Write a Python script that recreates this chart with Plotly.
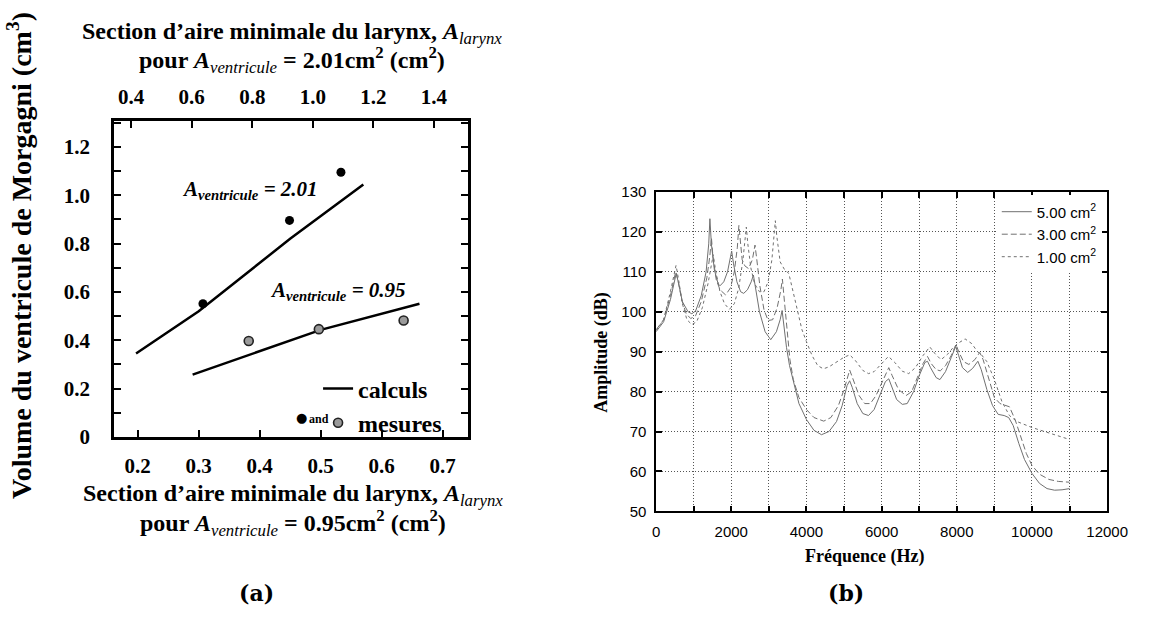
import plotly.graph_objects as go

# ---------------- Panel (a) data ----------------
# series A_ventricule = 2.01 (read against the top axis)
calc201_x = [0.416, 0.623, 0.925, 1.167]
calc201_y = [0.345, 0.52, 0.82, 1.045]
meas201_x = [0.637, 0.923, 1.093]
meas201_y = [0.551, 0.896, 1.095]
# series A_ventricule = 0.95 (read against the bottom axis)
calc095_x = [0.29, 0.40, 0.50, 0.662]
calc095_y = [0.258, 0.355, 0.443, 0.551]
meas095_x = [0.382, 0.497, 0.636]
meas095_y = [0.397, 0.446, 0.482]

a_bottom_ticks = [0.2, 0.3, 0.4, 0.5, 0.6, 0.7]
a_bottom_labels = ["0.2", "0.3", "0.4", "0.5", "0.6", "0.7"]
a_top_ticks = [0.4, 0.6, 0.8, 1.0, 1.2, 1.4]
a_top_labels = ["0.4", "0.6", "0.8", "1.0", "1.2", "1.4"]
a_y_ticks = [0, 0.2, 0.4, 0.6, 0.8, 1.0, 1.2]
a_y_labels = ["0", "0.2", "0.4", "0.6", "0.8", "1.0", "1.2"]

# ---------------- Panel (b) data ----------------
curve_500 = [(0,95.0),(200,97.5),(380,103),(480,107.5),(535,109.6),(600,107),(700,102.5),(850,100),
             (950,99.5),(1050,100.2),(1200,104),(1330,110),(1400,117),(1431,123.3),(1470,117),(1550,110.5),
             (1650,107),(1700,106.5),(1800,107.5),(1900,110),(1970,113.5),(2010,115.2),(2060,112),(2150,107.5),
             (2250,105),(2330,104.6),(2430,105.5),(2530,107.5),(2588,109.2),(2650,106),(2750,100),(2900,95),
             (3050,93),(3200,95),(3300,98),(3352,100.3),(3400,96),(3470,91),(3550,86.5),(3650,82.5),(3800,77),
             (4000,73),(4200,70.3),(4400,69.2),(4600,70),(4800,72.5),(4950,76.5),(5080,81.5),(5150,82.7),
             (5220,81),(5350,77),(5500,74.5),(5650,74),(5800,75.5),(5950,79),(6100,82.5),(6190,83.2),(6280,81),
             (6400,78),(6550,76.8),(6680,77),(6850,80),(7000,84),(7150,87.3),(7220,87.6),(7300,86),(7450,83.5),
             (7550,83),(7700,85),(7850,88.5),(7970,91.3),(8050,89),(8150,86),(8290,84.8),(8420,85.8),(8560,87.6),
             (8650,85.5),(8800,80.5),(8950,76.5),(9100,74.3),(9260,74),(9380,73.5),(9500,71.5),(9650,67),
             (9800,63),(10000,59.5),(10200,57),(10400,55.7),(10600,55.3),(10800,55.4),(11000,55.7)]
curve_300 = [(0,95.5),(200,98),(380,104),(470,108.5),(520,110),(580,108),(680,103),(800,99.5),(920,98.3),
             (1050,99),(1200,102.5),(1350,108.5),(1430,114),(1472,118.5),(1510,114),(1600,108),(1700,105.5),
             (1850,104.2),(1980,106),(2080,110),(2160,116),(2202,121.6),(2240,117),(2290,113),(2360,111.5),
             (2460,110.8),(2560,113),(2631,116.7),(2680,113),(2760,106.5),(2870,100.5),(2980,97.8),(3100,98),
             (3220,101),(3320,105.5),(3360,108.2),(3400,104),(3470,96),(3560,88),(3650,83),(3800,78.5),
             (4000,75.5),(4200,73.5),(4460,72.6),(4650,73.5),(4850,76.5),(5000,80.5),(5150,85.4),(5250,83),
             (5400,79),(5550,77),(5700,77),(5850,79),(6050,83),(6190,86),(6280,84),(6450,80.5),(6650,79),
             (6800,80),(6950,83.5),(7100,87),(7220,88.8),(7320,87),(7450,85.5),(7560,85.2),(7700,86.5),
             (7850,89),(7980,91.8),(8050,90),(8180,87.5),(8320,86.8),(8480,88),(8610,89.8),(8700,88),
             (8850,83),(9000,78.5),(9150,77),(9300,76.5),(9400,76.2),(9550,73),(9700,68.5),(9850,64.5),
             (10000,61.5),(10200,59.3),(10450,58),(10700,57.5),(11000,57.3)]
curve_100 = [(0,95.3),(200,98),(380,105),(480,110),(530,111.6),(590,108.5),(700,102),(820,98),(950,96.8),
             (1080,97.5),(1230,101),(1380,107),(1480,112),(1520,114.3),(1580,110.5),(1700,105),(1820,102),
             (1950,100.6),(2080,102),(2200,106),(2310,113),(2370,118),(2400,121.2),(2440,117),(2520,111),
             (2620,107),(2750,105),(2870,105),(2980,107.5),(3080,113),(3140,119),(3172,122.8),(3210,119),
             (3300,112.5),(3420,110.5),(3530,109.6),(3620,106),(3750,100.5),(3880,95.5),(4000,92.5),
             (4150,89),(4300,86.5),(4450,85.7),(4600,86.2),(4800,87.5),(5000,88.6),(5150,89.2),(5300,87.8),
             (5500,85.3),(5650,84.5),(5800,85),(6000,87),(6180,88.8),(6350,87.3),(6550,85.1),(6720,84.5),
             (6900,86),(7100,89),(7280,91.2),(7420,89.5),(7580,88),(7750,89.3),(7900,91),(8050,92.2),
             (8220,93.2),(8400,92),(8550,90),(8650,89.3),(8800,87.5),(9000,83),(9200,77.5),(9400,74),
             (9600,72.5),(10000,71),(10500,69.5),(11000,68)]
series_names = ["5.00 cm<sup>2</sup>", "3.00 cm<sup>2</sup>", "1.00 cm<sup>2</sup>"]
b_y_ticks = list(range(50, 131, 10))

# ---------------- figure ----------------
W, H = 1158, 619
SERIF = "Liberation Serif"
SANS = "Liberation Sans"


def px(x):
    return x / W


def py(y):
    return 1 - y / H


fig = go.Figure()

fig.add_trace(go.Scatter(x=calc201_x, y=calc201_y, xaxis="x2", yaxis="y", mode="lines",
                         line=dict(color="black", width=2.5), name="calculs", legend="legend"))
fig.add_trace(go.Scatter(x=calc095_x, y=calc095_y, xaxis="x", yaxis="y", mode="lines",
                         line=dict(color="black", width=2.5), showlegend=False))
fig.add_trace(go.Scatter(x=meas201_x, y=meas201_y, xaxis="x2", yaxis="y", mode="markers",
                         marker=dict(color="black", size=9), showlegend=False))
fig.add_trace(go.Scatter(x=meas095_x, y=meas095_y, xaxis="x", yaxis="y", mode="markers",
                         marker=dict(color="#9a9a9a", size=9, line=dict(color="#222", width=1.6)),
                         name="mesures", legend="legend"))

dashes = ["solid", "6px,3px", "3px,3px"]
for curve, nm, d in zip([curve_500, curve_300, curve_100], series_names, dashes):
    fx = [p[0] for p in curve]
    fy = [p[1] for p in curve]
    fig.add_trace(go.Scatter(x=fx, y=fy, xaxis="x3", yaxis="y3", mode="lines",
                             line=dict(color="#707070", width=1, dash=d), name=nm, legend="legend2"))

tick_a = dict(family=SERIF, size=21, color="black", weight="bold")
tick_b = dict(family=SANS, size=15, color="black")

fig.update_layout(
    width=W, height=H, autosize=False,
    margin=dict(l=0, r=0, t=0, b=0),
    paper_bgcolor="white", plot_bgcolor="rgba(0,0,0,0)",
    xaxis=dict(domain=[px(112.7), px(474)], anchor="y", range=[0.1615, 0.7412],
               tickvals=a_bottom_ticks, ticktext=a_bottom_labels, ticks="inside", ticklen=7, tickwidth=2,
               tickcolor="black", showline=True, linewidth=3, linecolor="black", mirror=True,
               showgrid=False, zeroline=False, tickfont=tick_a, ticklabelstandoff=8),
    xaxis2=dict(overlaying="x", side="top", anchor="y", range=[0.344, 1.512],
                tickvals=a_top_ticks, ticktext=a_top_labels, ticks="inside", ticklen=7, tickwidth=2,
                tickcolor="black", showline=True, linewidth=3, linecolor="black",
                showgrid=False, zeroline=False, tickfont=tick_a, ticklabelstandoff=6),
    yaxis=dict(domain=[py(443), py(116)], anchor="x", range=[0, 1.307],
               tickvals=a_y_ticks, ticktext=a_y_labels, ticks="inside", ticklen=7, tickwidth=2,
               tickcolor="black", showline=True, linewidth=3, linecolor="black", mirror="allticks",
               showgrid=False, zeroline=False, tickfont=tick_a, ticklabelstandoff=17,
               minor=dict(dtick=0.1, ticks="inside", ticklen=4, tickwidth=2, tickcolor="black")),
    xaxis3=dict(domain=[px(666.5), px(1127.5)], anchor="y3", range=[0, 12000],
                tick0=0, dtick=2000, tickformat="d", ticks="inside", ticklen=6, tickwidth=1.5,
                tickcolor="black", showline=True, linewidth=1.5, linecolor="black", mirror="allticks",
                showgrid=True, gridcolor="#555", griddash="1px,2px", gridwidth=1, zeroline=False,
                tickfont=tick_b, ticklabelstandoff=6,
                minor=dict(dtick=1000, ticks="inside", ticklen=6, tickwidth=1.5, tickcolor="black",
                           showgrid=True, gridcolor="#555", griddash="1px,2px", gridwidth=1)),
    yaxis3=dict(domain=[py(520), py(189.4)], anchor="x3", range=[50, 130],
                tickvals=b_y_ticks, ticks="inside", ticklen=6, tickwidth=1.5,
                tickcolor="black", showline=True, linewidth=1.5, linecolor="black", mirror="allticks",
                showgrid=True, gridcolor="#555", griddash="1px,2px", gridwidth=1, zeroline=False,
                tickfont=tick_b, ticklabelstandoff=5),
    legend=dict(x=px(321), y=py(370), xanchor="left", yanchor="top", bgcolor="rgba(0,0,0,0)",
                font=dict(family=SERIF, size=24, color="black", weight="bold"), tracegroupgap=0),
    legend2=dict(x=px(1122), y=py(193), xanchor="right", yanchor="top", bgcolor="white",
                 font=dict(family=SANS, size=15, color="black"), tracegroupgap=0),
)

ttl = dict(family=SERIF, size=24, color="black", weight="bold")
sub_a = "<sub><span style='font-weight:normal'><i>larynx</i></span></sub>"
sub_v = "<sub><span style='font-weight:normal'><i>ventricule</i></span></sub>"
texts = [
    ("Section d’aire minimale du larynx, <i>A</i>" + sub_a, 294, 25, 0, ttl, "center"),
    ("pour <i>A</i>" + sub_v + " = 2.01cm<sup>2</sup> (cm<sup>2</sup>)", 294, 53, 0, ttl, "center"),
    ("Section d’aire minimale du larynx, <i>A</i>" + sub_a, 295, 503, 0, ttl, "center"),
    ("pour <i>A</i>" + sub_v + " = 0.95cm<sup>2</sup> (cm<sup>2</sup>)", 295, 532, 0, ttl, "center"),
    ("Volume du ventricule de Morgagni (cm<sup>3</sup>)", 16, 255, -90,
     dict(family=SERIF, size=28, color="black", weight="bold"), "center"),
    ("<i>A</i><sub><i>ventricule</i></sub><i> = 2.01</i>", 251, 187, 0,
     dict(family=SERIF, size=21, color="black", weight="bold"), "center"),
    ("<i>A</i><sub><i>ventricule</i></sub><i> = 0.95</i>", 341, 292, 0,
     dict(family=SERIF, size=21, color="black", weight="bold"), "center"),
    ("●", 304, 423, 0, dict(family="DejaVu Sans", size=13, color="black"), "center"),
    ("and", 322, 424, 0, dict(family=SERIF, size=12, color="black", weight="bold"), "center"),
    ("(a)", 258, 605, 0, dict(family="DejaVu Serif", size=22, color="black", weight="bold"), "center"),
    ("Fréquence (Hz)", 879, 567, 0, dict(family=SERIF, size=18, color="black", weight="bold"), "center"),
    ("Amplitude (dB)", 611, 355, -90, dict(family=SERIF, size=18, color="black", weight="bold"), "center"),
    ("(b)", 861, 605, 0, dict(family="DejaVu Serif", size=22, color="black", weight="bold"), "center"),
]
for t, x, y, ang, f, xa in texts:
    fig.add_annotation(text=t, x=px(x), y=py(y), xref="paper", yref="paper", showarrow=False,
                       xanchor=xa, yanchor="middle", textangle=ang, font=f)

fig.write_html("out.html", config={"displayModeBar": False},
               post_script="document.body.style.margin='0px';")
